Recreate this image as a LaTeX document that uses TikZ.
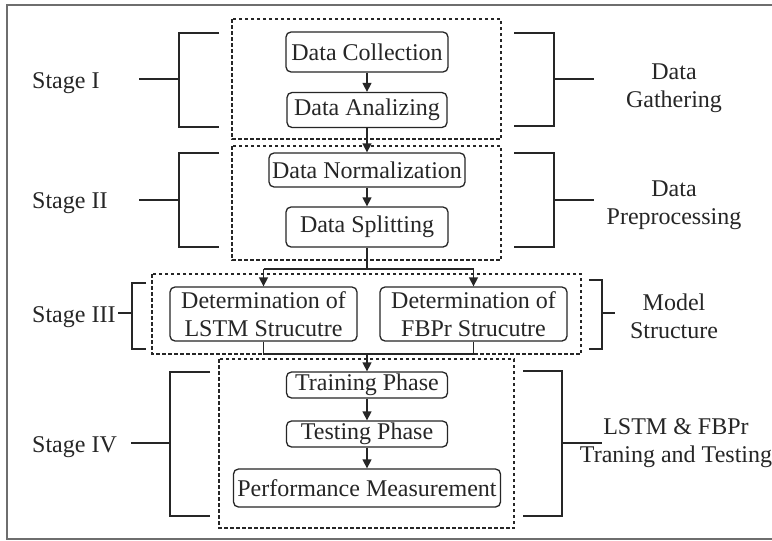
\documentclass[tikz,border=0pt]{standalone}
\usepackage{fontspec}
\setmainfont{Liberation Serif}
\usetikzlibrary{arrows.meta}
\definecolor{ink}{HTML}{262626}
\definecolor{frame}{HTML}{6E6E6E}
\tikzset{
  stepbox/.style={draw=ink, line width=1.3pt, rounded corners=5pt, inner sep=0pt, text=ink, font=\fontsize{24}{28}\selectfont},
  groupbox/.style={draw=ink, line width=1.5pt, dash pattern=on 3.5pt off 2.5pt},
  brk/.style={draw=ink, line width=1.6pt},
  conn/.style={draw=ink, line width=1.4pt},
  arr/.style={conn, -{Triangle[length=9pt,width=9pt]}},
  lab/.style={text=ink, font=\fontsize{24}{28}\selectfont, inner sep=0pt},
}
\begin{document}
\begin{tikzpicture}[x=1pt,y=-1pt]
\useasboundingbox (0,0) rectangle (772,541);
\fill[white] (0,0) rectangle (772,541);
\draw[frame, line width=2.5pt] (7,5) rectangle (790,539);

% group boxes
\draw[groupbox] (232,19) rectangle (501,139);
\draw[groupbox] (232,146) rectangle (501,260);
\draw[groupbox] (152,274) rectangle (581,354);
\draw[groupbox] (219,359) rectangle (514,528);

% step nodes
\node[stepbox, minimum width=162pt, minimum height=40pt] (dc) at (367,52) {Data Collection};
\node[stepbox, minimum width=160pt, minimum height=35pt] (da) at (367,110) {Data Analizing};
\node[stepbox, minimum width=196pt, minimum height=34pt] (dn) at (367,170) {Data Normalization};
\node[stepbox, minimum width=162pt, minimum height=40pt] (ds) at (367,227) {Data Splitting};
\node[stepbox, minimum width=187pt, minimum height=54pt, align=center] (lstm) at (263.5,314) {Determination of\\LSTM Strucutre};
\node[stepbox, minimum width=187pt, minimum height=54pt, align=center] (fbpr) at (473.5,314) {Determination of\\FBPr Strucutre};
\node[stepbox, minimum width=161pt, minimum height=26pt] (tr) at (367,385) {Training Phase};
\node[stepbox, minimum width=161pt, minimum height=26pt] (te) at (367,434) {Testing Phase};
\node[stepbox, minimum width=267pt, minimum height=38pt] (pm) at (367,488) {Performance Measurement};

% connectors
\draw[arr] (dc) -- (da);
\draw[arr] (da) -- (dn);
\draw[arr] (dn) -- (ds);
\coordinate (split) at (367,269);
\draw[conn] (ds.south) -- (split);
\draw[conn] (lstm.north |- split) -- (fbpr.north |- split);
\draw[arr] (lstm.north |- split) -- (lstm.north);
\draw[arr] (fbpr.north |- split) -- (fbpr.north);
\coordinate (merge) at (367,354);
\draw[conn] (lstm.south) -- (lstm.south |- merge) -- (fbpr.south |- merge) -- (fbpr.south);
\draw[arr] (merge) -- (tr.north);
\draw[arr] (tr) -- (te);
\draw[arr] (te) -- (pm);

% stage labels
\node[lab, anchor=base west] (s1) at (32,88) {Stage I};
\node[lab, anchor=base west] (s2) at (32,208) {Stage II};
\node[lab, anchor=base west] (s3) at (32,322) {Stage III};
\node[lab, anchor=base west] (s4) at (32,452) {Stage IV};

% right labels
\node[lab, align=center] (r1) at (674,88) {Data\\Gathering};
\node[lab, align=center] (r2) at (674,205) {Data\\Preprocessing};
\node[lab, align=center] (r3) at (674,316) {Model\\Structure};
\node[lab, align=center] (r4) at (676,443) {LSTM \& FBPr\\Traning and Testing};

% left brackets
\draw[brk] (219,33) -- (179,33) -- (179,127) -- (219,127);
\draw[brk] (139,79) -- (179,79);
\draw[brk] (219,153) -- (179,153) -- (179,247) -- (219,247);
\draw[brk] (139,200) -- (179,200);
\draw[brk] (146,283) -- (132,283) -- (132,349) -- (146,349);
\draw[brk] (118,313) -- (132,313);
\draw[brk] (210,372) -- (170,372) -- (170,516) -- (210,516);
\draw[brk] (131,443) -- (170,443);

% right brackets
\draw[brk] (514,33) -- (554,33) -- (554,126) -- (514,126);
\draw[brk] (554,79) -- (594,79);
\draw[brk] (514,153) -- (554,153) -- (554,247) -- (514,247);
\draw[brk] (554,200) -- (594,200);
\draw[brk] (589,280) -- (602,280) -- (602,349) -- (589,349);
\draw[brk] (602,313) -- (615,313);
\draw[brk] (523,371) -- (562,371) -- (562,516) -- (523,516);
\draw[brk] (562,443) -- (602,443);
\end{tikzpicture}
\end{document}
